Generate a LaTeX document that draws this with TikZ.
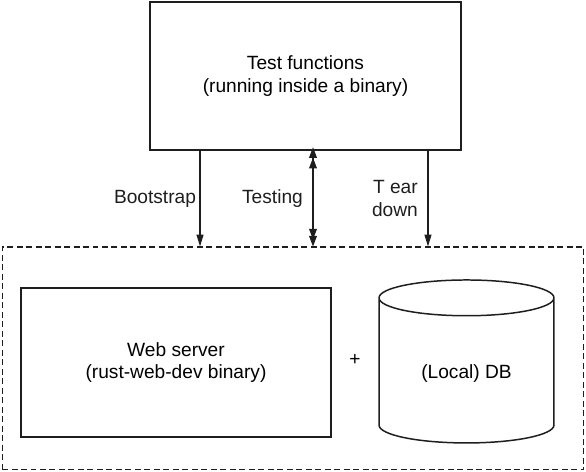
\documentclass[tikz,border=0pt]{standalone}
\usepackage{fontspec}
\setmainfont{Liberation Sans}
\usetikzlibrary{shapes.geometric, arrows.meta, positioning}
\usepackage{xcolor}
\definecolor{linedark}{RGB}{30, 30, 30}

\begin{document}
\begin{tikzpicture}[
    x=0.02cm, y=-0.02cm,
    box/.style={rectangle, draw=linedark, line width=0.85pt, align=center, font=\fontsize{10.9}{13}\selectfont},
    envbox/.style={rectangle, draw=linedark, line width=0.6pt, dash pattern=on 3.4pt off 2pt},
    dbshape/.style={cylinder, shape border rotate=90, draw=linedark, line width=0.85pt, aspect=0.35, font=\fontsize{10.9}{13}\selectfont},
    lbl/.style={align=right, inner sep=0pt, font=\fontsize{10.9}{13}\selectfont},
    arrow/.style={-{Triangle[length=6.8pt, width=4pt]}, line width=0.6pt, color=linedark},
    twoway/.style={{Triangle[length=6pt, width=4.4pt, sep=-2pt] Triangle[length=6pt, width=4.4pt]}-{Triangle[length=6pt, width=4.4pt, sep=-2pt] Triangle[length=6pt, width=4.4pt]}, line width=0.6pt, color=linedark},
]
\useasboundingbox (0, 0) rectangle (586, 472);

% Test functions
\node[box, minimum width=6.22cm, minimum height=2.96cm] (tests) at (305.5, 76) {Test functions\\(running inside a binary)};

% Environment
\node[envbox, minimum width=11.64cm, minimum height=4.46cm] (env) at (293, 358.5) {};

% Web server and DB
\node[box, minimum width=6.2cm, minimum height=2.98cm] (server) at (176, 362.5) {Web server\\(rust-web-dev binary)};
\node[dbshape, minimum width=3.5cm, minimum height=3.26cm] (db) at (466.5, 374) {(Local) DB};
\node[font=\fontsize{10.9}{13}\selectfont] (plus) at (355, 360) {+};

% Connectors
\draw[arrow] ([xshift=-2.11cm]tests.south) -- ([xshift=-2.11cm]tests.south |- env.north)
    node[lbl, midway, left=2pt] (boot) {Bootstrap};
\draw[twoway] ([xshift=0.15cm]tests.south) -- ([xshift=0.15cm]tests.south |- env.north)
    node[lbl, midway, left=5.5pt] (testing) {Testing};
\draw[arrow] ([xshift=2.45cm]tests.south) -- ([xshift=2.45cm]tests.south |- env.north)
    node[lbl, midway, left=5.5pt] (teardown) {T ear\\down};

\end{tikzpicture}
\end{document}
